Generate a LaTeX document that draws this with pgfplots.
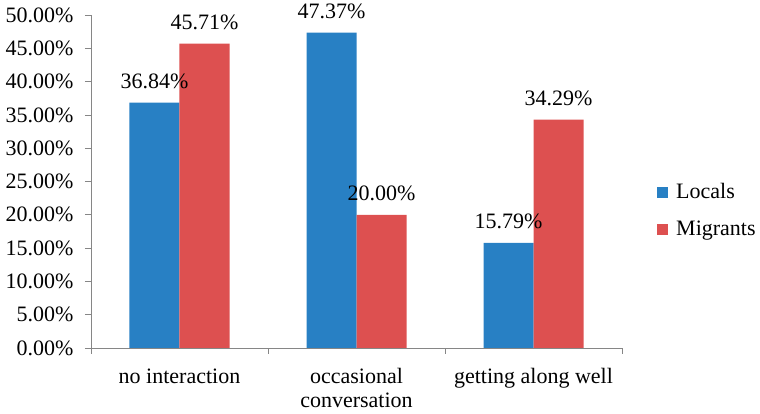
\documentclass[border=0pt]{standalone}
\usepackage{fontspec}
\setmainfont{Liberation Serif}
\usepackage{pgfplots}
\pgfplotsset{compat=1.18}
\definecolor{locblue}{RGB}{40,128,196}
\definecolor{migred}{RGB}{221,80,80}
\definecolor{axgray}{RGB}{134,134,134}
\begin{document}
\fontsize{22}{24}\selectfont
\begin{tikzpicture}
\begin{axis}[
    name=ax, anchor=south west, at={(0,0)},
    scale only axis, width=531pt, height=333pt,
    ybar=0pt, bar width=50pt,
    xmin=-0.5, xmax=2.5, ymin=0, ymax=50,
    clip=false,
    axis x line*=bottom, axis y line*=left,
    axis line style={axgray, line width=0.8pt, -},
    tick style={axgray, line width=0.8pt},
    major tick length=6pt, tick align=outside,
    xtick={-0.5,0.5,1.5,2.5},
    x tick label as interval,
    xticklabels={no interaction,{occasional\\conversation},getting along well},
    xticklabel style={align=center, font=\fontsize{22}{24}\selectfont, black, yshift=-7pt},
    ytick={0,5,...,50},
    yticklabel={\pgfmathprintnumber[fixed,fixed zerofill,precision=2]{\tick}\%},
    yticklabel style={font=\fontsize{22}{24}\selectfont, black, xshift=-4pt},
    /pgf/number format/assume math mode=true,
    nodes near coords={\pgfmathprintnumber[fixed,fixed zerofill,precision=2]{\pgfplotspointmeta}\%},
    every node near coord/.append style={font=\fontsize{22}{24}\selectfont, black, yshift=6pt},
    legend style={draw=none, fill=none, at={(1,0.411)}, anchor=west, xshift=32pt,
        font=\fontsize{22}{24}\selectfont, row sep=15pt},
    legend cell align=left,
]
\addplot[fill=locblue, draw=none,
    legend image code/.code={\fill[locblue] (0pt,-5.5pt) rectangle (11pt,5.5pt); \path (17pt,0pt);}]
    coordinates {(0,36.84) (1,47.37) (2,15.79)};
\addplot[fill=migred, draw=none,
    legend image code/.code={\fill[migred] (0pt,-5.5pt) rectangle (11pt,5.5pt); \path (17pt,0pt);}]
    coordinates {(0,45.71) (1,20.00) (2,34.29)};
\legend{Locals,Migrants}
\end{axis}
\pgfresetboundingbox
\path[use as bounding box] (-91pt,-66pt) rectangle (669pt,348pt);
\end{tikzpicture}
\end{document}
